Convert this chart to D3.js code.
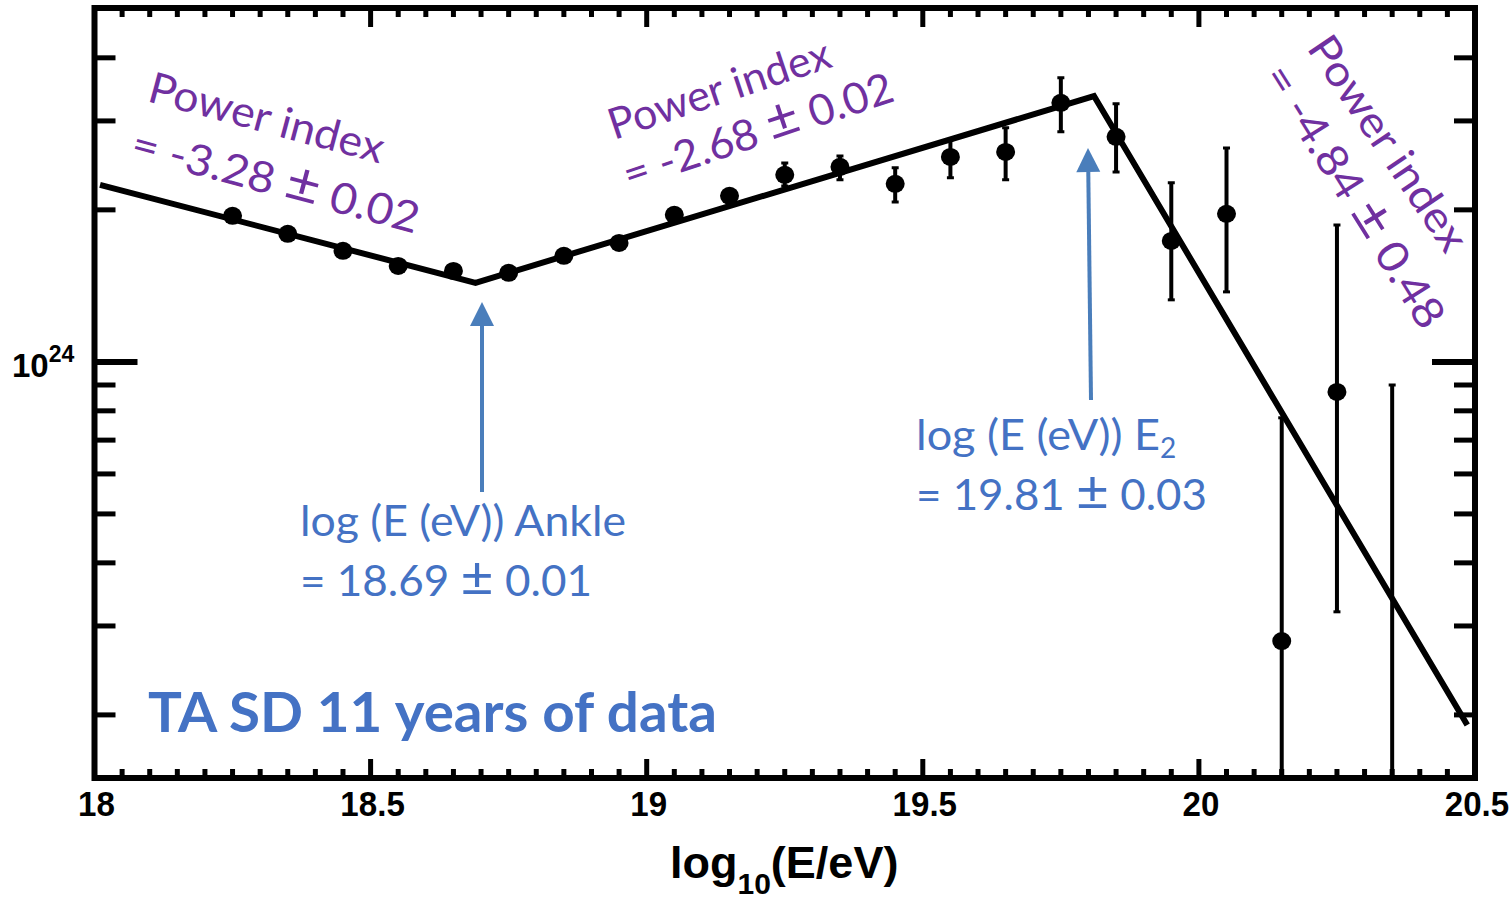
<!DOCTYPE html>
<html>
<head>
<meta charset="utf-8">
<script src="https://cdn.jsdelivr.net/npm/d3@7"></script>
<style>
  html, body { margin: 0; padding: 0; background: #fff; }
  svg { display: block; }
</style>
</head>
<body>
<div id="chart"></div>
<script>
// ---- data (flux in units of 1e24) ----
const binCenters = [18.25, 18.35, 18.45, 18.55, 18.65, 18.75, 18.85, 18.95, 19.05, 19.15, 19.25,
                    19.35, 19.45, 19.55, 19.65, 19.75, 19.85, 19.95, 20.05, 20.15, 20.25, 20.35];
const fluxVal = [1.946, 1.793, 1.659, 1.549, 1.514, 1.501, 1.622, 1.720, 1.955, 2.132, 2.346,
                 2.433, 2.252, 2.546, 2.605, 3.258, 2.790, 1.736, 1.964, 0.280, 0.872, 0.120];
const fluxHi  = [1.970, 1.815, 1.680, 1.568, 1.533, 1.520, 1.642, 1.742, 1.980, 2.160, 2.477,
                 2.558, 2.422, 2.752, 2.907, 3.651, 3.243, 2.262, 2.653, 0.775, 1.867, 0.900];
const fluxLo  = [1.920, 1.770, 1.638, 1.530, 1.495, 1.482, 1.600, 1.698, 1.930, 2.105, 2.231,
                 2.293, 2.074, 2.314, 2.293, 2.854, 2.378, 1.327, 1.376, 0.010, 0.320, 0.010];

// broken power law fit, vertices
const fitX = [18.01, 18.69, 19.81, 20.486];
const fitY = [2.242, 1.434, 3.36, 0.191];

const xTickLabels = ['18', '18.5', '19', '19.5', '20', '20.5'];
const xMajorTicks = [18, 18.5, 19, 19.5, 20, 20.5];
const yMajorTicks = [1e24];
const yMinorTicks = [2e23, 3e23, 4e23, 5e23, 6e23, 7e23, 8e23, 9e23, 2e24, 3e24, 4e24];

const W = 1512, H = 902;
const pLeft = 94.5, pRight = 1475, pTop = 8, pBottom = 778;

const svg = d3.select('#chart').append('svg')
    .attr('width', W)
    .attr('height', H);

const x = d3.scaleLinear().domain([18, 20.5]).range([pLeft, pRight]);
const y = d3.scaleLog().domain([1.5e23, 5.02e24]).range([pBottom, pTop]);

const purple = '#7030a0';
const blue = '#4472c4';
const arrowBlue = '#4a7ebb';

// clip
svg.append('defs').append('clipPath').attr('id', 'plotClip')
    .append('rect')
    .attr('x', pLeft).attr('y', pTop)
    .attr('width', pRight - pLeft).attr('height', pBottom - pTop);

// ---- ticks ----
const tickG = svg.append('g').attr('stroke', '#000').attr('stroke-width', 5);
const xMinor = d3.range(0, 51).map(i => 18 + i * 0.05).filter(v => !xMajorTicks.some(m => Math.abs(m - v) < 1e-6));

xMinor.forEach(v => {
    tickG.append('line').attr('x1', x(v)).attr('x2', x(v)).attr('y1', pBottom).attr('y2', pBottom - 9);
    tickG.append('line').attr('x1', x(v)).attr('x2', x(v)).attr('y1', pTop).attr('y2', pTop + 9);
});
xMajorTicks.forEach(v => {
    tickG.append('line').attr('x1', x(v)).attr('x2', x(v)).attr('y1', pBottom).attr('y2', pBottom - 19);
    tickG.append('line').attr('x1', x(v)).attr('x2', x(v)).attr('y1', pTop).attr('y2', pTop + 19);
});
yMinorTicks.forEach(v => {
    tickG.append('line').attr('x1', pLeft).attr('x2', pLeft + 21).attr('y1', y(v)).attr('y2', y(v));
    tickG.append('line').attr('x1', pRight).attr('x2', pRight - 21).attr('y1', y(v)).attr('y2', y(v));
});
yMajorTicks.forEach(v => {
    tickG.append('line').attr('x1', pLeft).attr('x2', pLeft + 43).attr('y1', y(v)).attr('y2', y(v)).attr('stroke-width', 6);
    tickG.append('line').attr('x1', pRight).attr('x2', pRight - 43).attr('y1', y(v)).attr('y2', y(v)).attr('stroke-width', 6);
});

// ---- data layer ----
const plot = svg.append('g').attr('clip-path', 'url(#plotClip)');

// fit line
const fitLine = d3.line().x(d => x(d[0])).y(d => y(d[1] * 1e24));
plot.append('path')
    .datum(fitX.map((v, i) => [v, fitY[i]]))
    .attr('d', fitLine)
    .attr('fill', 'none')
    .attr('stroke', '#000')
    .attr('stroke-width', 6)
    .attr('stroke-linejoin', 'miter');

const pts = binCenters.map((e, i) => ({ e, v: fluxVal[i] * 1e24, hi: fluxHi[i] * 1e24, lo: fluxLo[i] * 1e24 }));

// error bars
const eb = plot.append('g').attr('stroke', '#000');
eb.selectAll('line.bar').data(pts).enter().append('line')
    .attr('class', 'bar')
    .attr('x1', d => x(d.e)).attr('x2', d => x(d.e))
    .attr('y1', d => y(d.hi)).attr('y2', d => y(d.lo))
    .attr('stroke-width', 4);
eb.selectAll('line.capHi').data(pts).enter().append('line')
    .attr('x1', d => x(d.e) - 3.5).attr('x2', d => x(d.e) + 3.5)
    .attr('y1', d => y(d.hi)).attr('y2', d => y(d.hi))
    .attr('stroke-width', 3);
eb.selectAll('line.capLo').data(pts).enter().append('line')
    .attr('x1', d => x(d.e) - 3.5).attr('x2', d => x(d.e) + 3.5)
    .attr('y1', d => y(d.lo)).attr('y2', d => y(d.lo))
    .attr('stroke-width', 3);

// markers
plot.selectAll('ellipse.pt').data(pts).enter().append('ellipse')
    .attr('cx', d => x(d.e)).attr('cy', d => y(d.v))
    .attr('rx', 9.5).attr('ry', 9)
    .attr('fill', '#000');

// ---- frame ----
svg.append('rect')
    .attr('x', pLeft).attr('y', pTop)
    .attr('width', pRight - pLeft).attr('height', pBottom - pTop)
    .attr('fill', 'none').attr('stroke', '#000').attr('stroke-width', 6);

// ---- axis labels ----
const axisFont = "'Liberation Sans', Arial, Helvetica, sans-serif";
svg.append('g').selectAll('text').data(xMajorTicks).enter().append('text')
    .attr('transform', d => `translate(${x(d) + 2},816) scale(0.92,1)`)
    .attr('text-anchor', 'middle')
    .attr('font-family', axisFont).attr('font-weight', 'bold').attr('font-size', 36)
    .text((d, i) => xTickLabels[i]);

const yLab = svg.append('text')
    .attr('x', 12).attr('y', 377)
    .attr('font-family', axisFont).attr('font-weight', 'bold').attr('font-size', 33);
yLab.append('tspan').text('10');
yLab.append('tspan').attr('dy', -15).attr('font-size', 23).text('24');

const xTitle = svg.append('text')
    .attr('x', 670).attr('y', 878)
    .attr('font-family', axisFont).attr('font-weight', 'bold').attr('font-size', 45);
xTitle.append('tspan').text('log');
xTitle.append('tspan').attr('dy', 16).attr('font-size', 30).text('10');
xTitle.append('tspan').attr('dy', -16).text('(E/eV)');

// ---- annotations ----
const annFont = "Lato, 'Open Sans', 'Noto Sans', sans-serif";

// split "a ± b" so the ± can be drawn larger, as in the picture
function addPm(sel, text, size) {
    const parts = text.split('\u00b1');
    sel.append('tspan').text(parts[0]);
    if (parts.length > 1) {
        sel.append('tspan').attr('font-size', size * 1.3).text('\u00b1');
        sel.append('tspan').text(parts[1]);
    }
}

const purpleNotes = [
    { t: 'Power index', x: 146, y: 101, a: 15, w: 242 },
    { t: '= -3.28 \u00b1 0.02', x: 129, y: 157, a: 15, w: 296 },
    { t: 'Power index', x: 614, y: 140, a: -18.5, w: 232 },
    { t: '= -2.68 \u00b1 0.02', x: 629, y: 190, a: -18.5, w: 282 },
    { t: 'Power index', x: 1306, y: 48, a: 56, w: 250 },
    { t: '= -4.84 \u00b1 0.48', x: 1262, y: 76, a: 58, w: 302 }
];
svg.append('g').selectAll('text').data(purpleNotes).enter().append('text')
    .attr('transform', d => `translate(${d.x},${d.y}) rotate(${d.a})`)
    .attr('font-family', annFont).attr('font-size', 43)
    .attr('fill', purple)
    .attr('textLength', d => d.w).attr('lengthAdjust', 'spacingAndGlyphs')
    .each(function (d) { addPm(d3.select(this), d.t, 43); });

const blueNotes = [
    { t: 'log (E (eV)) Ankle', x: 300, y: 536, w: 326 },
    { t: '= 18.69 \u00b1 0.01', x: 300, y: 596, w: 292 },
    { t: '= 19.81 \u00b1 0.03', x: 916, y: 510, w: 291 }
];
svg.append('g').selectAll('text').data(blueNotes).enter().append('text')
    .attr('x', d => d.x).attr('y', d => d.y)
    .attr('font-family', annFont).attr('font-size', 42)
    .attr('fill', blue)
    .attr('textLength', d => d.w).attr('lengthAdjust', 'spacingAndGlyphs')
    .each(function (d) { addPm(d3.select(this), d.t, 42); });

const e2 = svg.append('text')
    .attr('x', 916).attr('y', 450)
    .attr('font-family', annFont).attr('font-size', 42)
    .attr('fill', blue);
e2.append('tspan').attr('textLength', 244).attr('lengthAdjust', 'spacingAndGlyphs').text('log (E (eV)) E');
e2.append('tspan').attr('dy', 8).attr('font-size', 28).text('2');

svg.append('text')
    .attr('x', 148).attr('y', 732)
    .attr('font-family', annFont).attr('font-weight', 'bold').attr('font-size', 56)
    .attr('fill', blue)
    .attr('textLength', 569).attr('lengthAdjust', 'spacingAndGlyphs')
    .text('TA SD 11 years of data');

// arrows at the break energies
const arrows = [
    { e: 18.69, x0: 482, y0: 492, x1: 482, y1: 302 },
    { e: 19.81, x0: 1091, y0: 400, x1: 1088, y1: 148 }
];
arrows.forEach(a => {
    const ang = Math.atan2(a.y1 - a.y0, a.x1 - a.x0);
    const hl = 24, hw = 12;
    const bx = a.x1 - hl * Math.cos(ang), by = a.y1 - hl * Math.sin(ang);
    const px = -Math.sin(ang) * hw, py = Math.cos(ang) * hw;
    svg.append('line')
        .attr('x1', a.x0).attr('y1', a.y0).attr('x2', bx).attr('y2', by)
        .attr('stroke', arrowBlue).attr('stroke-width', 4);
    svg.append('path')
        .attr('d', `M${a.x1},${a.y1}L${bx + px},${by + py}L${bx - px},${by - py}Z`)
        .attr('fill', arrowBlue);
});
</script>
</body>
</html>
